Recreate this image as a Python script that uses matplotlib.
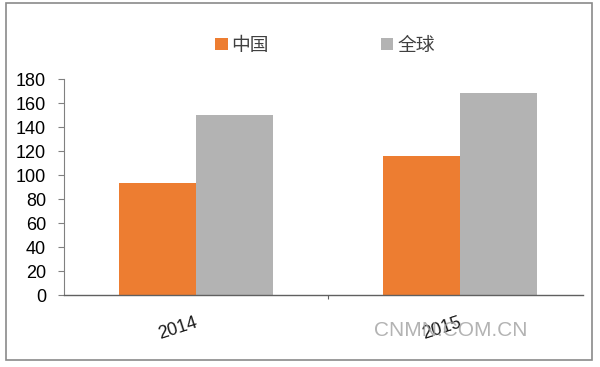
import numpy as np
import matplotlib
matplotlib.use('Agg')
from matplotlib import pyplot as pp
from matplotlib.patches import Rectangle
from matplotlib import transforms

pp.rcParams['font.family'] = ['Liberation Sans', 'Noto Sans CJK SC', 'DejaVu Sans']

# data
years = ['2014', '2015']
china = [93, 116]
world = [150, 168]
series_names = ['中国', '全球']
yticks = [0, 20, 40, 60, 80, 100, 120, 140, 160, 180]

c_orange = '#ED7D31'
c_gray = '#B3B3B3'

fig = pp.figure(figsize=(6, 3.67), dpi=100)
ax = fig.add_axes([64/600, 1-295/367, (592-64)/600, (295-79)/367])

x = np.arange(len(years))
w = 0.292
b1 = ax.bar(x - w/2, china, w, color=c_orange, label=series_names[0])
b2 = ax.bar(x + w/2, world, w, color=c_gray, label=series_names[1])

ax.set_xlim(-0.5, 1.5)
ax.set_ylim(0, 180)
ax.set_yticks(yticks)
ax.set_yticklabels([str(v) for v in yticks], fontsize=13)
ax.tick_params(axis='y', direction='out', length=4, width=0.8, color='#808080', pad=9)

# category boundary tick on x axis
ax.set_xticks([0.5])
ax.set_xticklabels([''])
ax.tick_params(axis='x', direction='out', length=3, width=0.8, color='#606060')
off = transforms.ScaledTranslation(-18/100, 0, fig.dpi_scale_trans)
for xi, lab in zip(x, years):
    ax.text(xi, -16, lab, rotation=18, ha='center', va='top', fontsize=13,
            color='#1a1a1a', transform=ax.transData + off)

for s in ['top', 'right']:
    ax.spines[s].set_visible(False)
ax.spines['left'].set_color('#808080')
ax.spines['bottom'].set_color('#606060')
ax.spines['bottom'].set_linewidth(1.0)
ax.spines['bottom'].set_bounds(-0.5, 1.466)

leg = fig.legend(handles=[b1, b2], labels=series_names, loc='center',
                 bbox_to_anchor=(325/600, 1-45/367), ncol=2, frameon=False,
                 prop={'family': ['Noto Sans CJK SC'], 'size': 13.5},
                 handlelength=0.65, handleheight=0.65, handletextpad=0.2,
                 columnspacing=6.0)
for t in leg.get_texts():
    t.set_color('#404040')

# watermark
fig.text(451/600, 1-330/367, 'CNMN.COM.CN', ha='center', va='center',
         fontsize=15, color='#A0A0A0', alpha=0.8)

# outer frame
fig.patches.append(Rectangle((6/600, 1-360/367), (592-6)/600, (360-3)/367,
                             transform=fig.transFigure, fill=False,
                             edgecolor='#8a8a8a', linewidth=1.2))

fig.savefig('out.png', dpi=100)
